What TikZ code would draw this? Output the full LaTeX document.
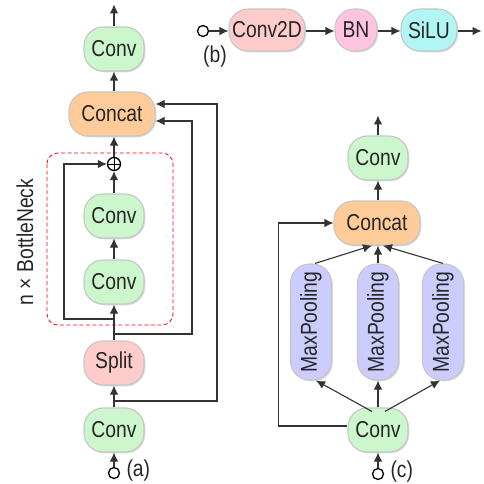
\documentclass[tikz,border=0pt]{standalone}
\usepackage{fontspec}
\setmainfont[FakeStretch=0.84]{Liberation Sans}
\usetikzlibrary{arrows.meta,shadows,calc}

\definecolor{convgreen}{HTML}{CCF7CC}
\definecolor{catorange}{HTML}{FFCC99}
\definecolor{splitred}{HTML}{FFCCCC}
\definecolor{bnpink}{HTML}{FFC4E2}
\definecolor{silucyan}{HTML}{B0F6F4}
\definecolor{poolblue}{HTML}{CCCCFF}
\definecolor{linegray}{HTML}{333333}

\begin{document}
\begin{tikzpicture}[x=1pt,y=-1pt,
    blk/.style={rounded corners=19pt, minimum width=60pt, minimum height=44pt,
      draw=gray!45, line width=1.1pt, inner sep=1pt, text=black!85,
      font=\fontsize{23}{26}\selectfont,
      drop shadow={shadow xshift=1.3pt, shadow yshift=-1.3pt, opacity=0.3}},
    conv/.style={blk, fill=convgreen},
    concat/.style={blk, fill=catorange, minimum width=86pt},
    split/.style={blk, fill=splitred},
    pool/.style={blk, fill=poolblue, rotate=90, minimum width=116pt, minimum height=41pt},
    port/.style={circle, draw=black, line width=1.3pt, fill=white, inner sep=0pt, minimum size=11pt},
    tag/.style={font=\fontsize{23}{26}\selectfont, text=black!85},
    arr/.style={draw=linegray, line width=1.1pt, -{Latex[length=9pt,width=8.5pt]}},
    ln/.style={draw=linegray, line width=1.1pt}]
\useasboundingbox (0,0) rectangle (483,484);

% (a) the C2f block
\node[conv] (aout) at (114,49) {Conv};
\node[concat] (acat) at (112,114) {Concat};
\node[port, minimum size=13pt] (add) at (114,164) {};
\draw[line width=0.9pt] (add.north) -- (add.south) (add.west) -- (add.east);
\node[conv] (ac1) at (114,216) {Conv};
\node[conv] (ac2) at (114,282) {Conv};
\node[split] (asplit) at (114,363) {Split};
\node[conv] (ain) at (114,430) {Conv};
\node[port] (a0) at (114,473) {};
\node[tag, anchor=west] (alab) at (123,471) {(a)};
\draw[red, dashed, line width=0.8pt, dash pattern=on 4pt off 2.5pt, rounded corners=11pt]
  (47,153) rectangle (173,325);
\node[tag, rotate=90] (nlab) at (25,242) {n × BottleNeck};

\coordinate (j1) at (114,401);
\coordinate (j2) at (114,334);
\coordinate (j3) at (114,319);

\draw[arr] (aout.north) -- ++(0,-22);
\draw[arr] (acat.north -| aout) -- (aout.south);
\draw[arr] (add.north) -- (acat.south -| add);
\draw[arr] (ac1.north) -- (add.south);
\draw[arr] (ac2.north) -- (ac1.south);
\draw[arr] (asplit.north) -- (ac2.south);
\draw[arr] (ain.north) -- (asplit.south);
\draw[arr] (a0.north) -- (ain.south);
\draw[arr] (j1) -- ++(103,0) |- ($(acat.east)+(0,-10)$);
\draw[arr] (j2) -- ++(78,0) |- ($(acat.east)+(0,7)$);
\draw[arr] (j3) -- ++(-50,0) |- (add.west);

% (b) the Conv block
\node[port] (b0) at (203,31) {};
\node[split, minimum width=76pt, minimum height=42pt] (bconv) at (267,30) {Conv2D};
\node[blk, fill=bnpink, minimum width=42pt, minimum height=42pt] (bbn) at (356,30) {BN};
\node[blk, fill=silucyan, minimum width=56pt, minimum height=42pt] (bsilu) at (429,30) {SiLU};
\node[tag] (blab) at (215,57) {(b)};
\draw[arr] (b0.east) -- (bconv.west |- b0);
\draw[arr] (bconv.east |- b0) -- (bbn.west |- b0);
\draw[arr] (bbn.east |- b0) -- (bsilu.west |- b0);
\draw[arr] (bsilu.east |- b0) -- ++(24,0);

% (c) the SPPF block
\node[conv] (cout) at (378,158) {Conv};
\node[concat] (ccat) at (377,223) {Concat};
\node[pool] (cp1) at (311,322) {MaxPooling};
\node[pool] (cp2) at (378,322) {MaxPooling};
\node[pool] (cp3) at (443,322) {MaxPooling};
\node[conv] (cin) at (378,430) {Conv};
\node[port] (c0) at (378,474) {};
\node[tag, anchor=west] (clab) at (387,472) {(c)};

\draw[arr] (cout.north) -- ++(0,-20);
\draw[arr] (ccat.north -| cout) -- (cout.south);
\draw[arr] (cp1.east) ++(4,0) -- ($(ccat.south)+(-5,0)$);
\draw[arr] (cp2.east) -- (ccat.south -| cp2);
\draw[arr] (cp3.east) -- ($(ccat.south)+(6,0)$);
\draw[arr] ($(cin.north)+(-6,4)$) -- ($(cp1.west)+(5,0)$);
\draw[arr] (cin.north) -- (cp2.west);
\draw[arr] ($(cin.north)+(7,4)$) -- ($(cp3.west)+(-3,0)$);
\draw[arr] ($(cin.west)+(0,-4)$) -- ++(-69,0) |- (ccat.west);
\draw[arr] (c0.north) -- (cin.south);
\end{tikzpicture}
\end{document}
